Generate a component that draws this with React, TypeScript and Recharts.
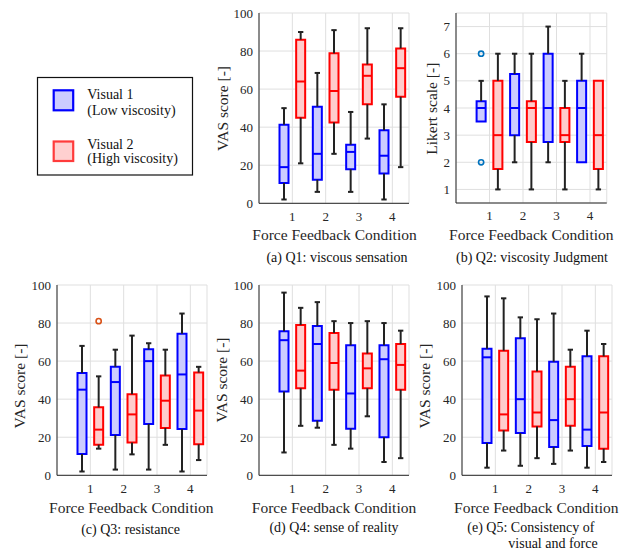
import React from 'react';
import {
  ComposedChart,
  XAxis,
  YAxis,
  CartesianGrid,
  ReferenceArea,
  ReferenceLine,
  Scatter,
} from 'recharts';

// ---------- data ----------
const conditions = [1, 2, 3, 4];
const vasTicks = [0, 20, 40, 60, 80, 100];
const likertTicks = [1, 2, 3, 4, 5, 6, 7];

// each entry: [lower whisker, Q1, median, Q3, upper whisker]
const q1Visual1 = [[2, 10.7, 19, 41.3, 50], [6, 12.4, 26, 50.8, 68.5], [6, 17.9, 27, 30.8, 48], [2, 15.6, 25, 38.4, 52]];
const q1Visual2 = [[21, 45, 64, 86, 90], [26, 42.5, 59, 78.8, 91], [34, 52, 67, 73, 92], [19, 56, 71, 81.4, 92]];
const q2Visual1 = [[3.5, 3.5, 4, 4.25, 5], [2, 3, 4, 5.25, 6], [2, 2.75, 4, 6, 7], [2, 2, 4, 5, 6]];
const q2Visual2 = [[1, 1.75, 3, 5, 6], [1, 2.75, 4, 4.25, 6], [1, 2.75, 3, 4, 5], [1, 1.75, 3, 5, 5]];
const q3Visual1 = [[2, 11.2, 45, 53.8, 68], [3, 21.2, 49, 57, 66], [3, 27, 60, 66.2, 69.4], [2, 24.3, 53, 74.4, 85]];
const q3Visual2 = [[14, 16.1, 24, 35.7, 52], [11, 17.2, 32, 42.6, 73.4], [16, 24.9, 39.2, 52.4, 66], [8, 16.3, 34, 54, 57]];
const q4Visual1 = [[12, 44, 71, 75.7, 96], [25, 28.7, 69, 78.5, 91], [14, 24.5, 43, 68.3, 80], [7, 20, 61, 68.3, 80]];
const q4Visual2 = [[26, 45.7, 55, 79, 88], [16, 45, 59, 74.8, 81], [31, 45.7, 56.2, 64, 81], [9, 45, 58, 69, 76]];
const q5Visual1 = [[4, 17, 62, 66.5, 94], [5, 22.2, 40, 72, 83], [6, 14.9, 29, 59.7, 85], [4, 15.4, 24, 62.5, 76]];
const q5Visual2 = [[13, 23.6, 32, 65.5, 93], [9, 25.7, 33, 54.6, 82], [13, 26, 40, 57, 66], [7, 14, 33, 62.5, 69]];

// outliers: [condition, value]
const q2Visual1Outliers = [[1, 6], [1, 2]];
const q3Visual2Outliers = [[1, 81]];

// ---------- styles ----------
const FONT = '"Liberation Serif", "Times New Roman", serif';
const AXIS = '#262626';
const WHISKER = '#222222';
const BLUE = '#0000ff';
const BLUE_FILL = '#ccccff';
const RED = '#ff0000';
const RED_FILL = '#ffcccc';
const GRID = '#dfdfdf';
const OFFSET = 0.25;
const HALF = 0.135;
const CAP = 0.08;

type Stats = number[][];

interface SeriesDef {
  stats: Stats;
  offset: number;
  stroke: string;
  fill: string;
}

function whiskers(s: SeriesDef, key: string) {
  return s.stats.map((d, i) => {
    const c = conditions[i] + s.offset;
    const [lo, q1, , q3, hi] = d;
    return (
      <React.Fragment key={key + i}>
        {hi > q3 && (
          <ReferenceLine segment={[{ x: c, y: q3 }, { x: c, y: hi }]} stroke={WHISKER} strokeWidth={2} />
        )}
        {hi > q3 && (
          <ReferenceLine segment={[{ x: c - CAP, y: hi }, { x: c + CAP, y: hi }]} stroke={WHISKER} strokeWidth={2} />
        )}
        {lo < q1 && (
          <ReferenceLine segment={[{ x: c, y: lo }, { x: c, y: q1 }]} stroke={WHISKER} strokeWidth={2} />
        )}
        {lo < q1 && (
          <ReferenceLine segment={[{ x: c - CAP, y: lo }, { x: c + CAP, y: lo }]} stroke={WHISKER} strokeWidth={2} />
        )}
      </React.Fragment>
    );
  });
}

function boxes(s: SeriesDef, key: string) {
  return s.stats.map((d, i) => {
    const c = conditions[i] + s.offset;
    const [, q1, , q3] = d;
    return (
      <ReferenceArea
        key={key + i}
        x1={c - HALF}
        x2={c + HALF}
        y1={q1}
        y2={q3}
        fill={s.fill}
        fillOpacity={1}
        stroke={s.stroke}
        strokeWidth={2}
      />
    );
  });
}

function medians(s: SeriesDef, key: string) {
  return s.stats.map((d, i) => {
    const c = conditions[i] + s.offset;
    const med = d[2];
    return (
      <ReferenceLine
        key={key + i}
        segment={[{ x: c - HALF, y: med }, { x: c + HALF, y: med }]}
        stroke={s.stroke}
        strokeWidth={2}
      />
    );
  });
}

interface PanelProps {
  plotLeft: number;
  plotTop: number;
  plotW: number;
  plotH: number;
  domain: [number, number];
  ticks: number[];
  v1: Stats;
  v2: Stats;
  outliers?: { points: number[][]; offset: number; color: string };
}

function Panel({ plotLeft, plotTop, plotW, plotH, domain, ticks, v1, v2, outliers }: PanelProps) {
  const yw = 60;
  const mt = 10;
  const xh = 30;
  const mr = 6;
  const s1: SeriesDef = { stats: v1, offset: -OFFSET, stroke: BLUE, fill: BLUE_FILL };
  const s2: SeriesDef = { stats: v2, offset: OFFSET, stroke: RED, fill: RED_FILL };
  const tickStyle = { fontSize: 13, fontFamily: FONT, fill: AXIS };
  const outlierData = outliers
    ? outliers.points.map(([cnd, v]) => ({ x: cnd + outliers.offset, y: v }))
    : [];
  return (
    <div style={{ position: 'absolute', left: plotLeft - yw, top: plotTop - mt }}>
      <ComposedChart
        width={yw + plotW + mr}
        height={mt + plotH + xh}
        margin={{ top: mt, right: mr, bottom: 0, left: 0 }}
      >
        <CartesianGrid stroke={GRID} strokeWidth={1} />
        <XAxis
          type="number"
          dataKey="x"
          domain={[0, 4.5]}
          ticks={conditions}
          interval={0}
          allowDataOverflow
          height={xh}
          tickLine={false}
          tickSize={6}
          tickMargin={2}
          axisLine={{ stroke: AXIS }}
          tick={tickStyle}
        />
        <YAxis
          type="number"
          dataKey="y"
          domain={domain}
          ticks={ticks}
          interval={0}
          allowDataOverflow
          width={yw}
          tickLine={false}
          tickSize={4}
          tickMargin={2}
          axisLine={{ stroke: AXIS }}
          tick={tickStyle}
        />
        {whiskers(s1, 'w1-')}
        {whiskers(s2, 'w2-')}
        {boxes(s1, 'b1-')}
        {boxes(s2, 'b2-')}
        {medians(s1, 'm1-')}
        {medians(s2, 'm2-')}
        {outliers && (
          <Scatter
            data={outlierData}
            dataKey="y"
            isAnimationActive={false}
            shape={(p: any) => (
              <circle cx={p.cx} cy={p.cy} r={2.6} fill="none" stroke={outliers.color} strokeWidth={1.6} />
            )}
          />
        )}
      </ComposedChart>
    </div>
  );
}

function YLabel({ x, y, text }: { x: number; y: number; text: string }) {
  return (
    <text
      x={x}
      y={y}
      dy="0.35em"
      textAnchor="middle"
      transform={`rotate(-90 ${x} ${y})`}
      fontSize={15.5}
      fontFamily={FONT}
      fill={AXIS}
    >
      {text}
    </text>
  );
}

function XLabel({ x, y }: { x: number; y: number }) {
  return (
    <text x={x} y={y} textAnchor="middle" fontSize={15.5} fontFamily={FONT} fill={AXIS}>
      Force Feedback Condition
    </text>
  );
}

function Caption({ x, y, text, anchor = 'middle' }: { x: number; y: number; text: string; anchor?: string }) {
  return (
    <text x={x} y={y} textAnchor={anchor as any} fontSize={14} fontFamily={FONT} fill="#111">
      {text}
    </text>
  );
}

export default function App() {
  return (
    <div style={{ position: 'absolute', left: 0, top: 0, width: 619, height: 558, background: '#fff', overflow: 'hidden' }}>
      <Panel plotLeft={259.4} plotTop={12.7} plotW={150} plotH={190.3} domain={[0, 100]} ticks={vasTicks} v1={q1Visual1} v2={q1Visual2} />
      <Panel
        plotLeft={455.8}
        plotTop={12.7}
        plotW={150.75}
        plotH={190}
        domain={[0.5, 7.5]}
        ticks={likertTicks}
        v1={q2Visual1}
        v2={q2Visual2}
        outliers={{ points: q2Visual1Outliers, offset: -OFFSET, color: '#0072BD' }}
      />
      <Panel
        plotLeft={56.7}
        plotTop={284.7}
        plotW={150}
        plotH={190.3}
        domain={[0, 100]}
        ticks={vasTicks}
        v1={q3Visual1}
        v2={q3Visual2}
        outliers={{ points: q3Visual2Outliers, offset: OFFSET, color: '#D95319' }}
      />
      <Panel plotLeft={259} plotTop={284.7} plotW={150} plotH={190.3} domain={[0, 100]} ticks={vasTicks} v1={q4Visual1} v2={q4Visual2} />
      <Panel plotLeft={462} plotTop={284.7} plotW={150} plotH={190.3} domain={[0, 100]} ticks={vasTicks} v1={q5Visual1} v2={q5Visual2} />

      <svg
        width={619}
        height={558}
        style={{ position: 'absolute', left: 0, top: 0, pointerEvents: 'none' }}
      >
        {/* legend */}
        <rect x={37.5} y={77.5} width={155} height={97.5} fill="#fff" stroke="#111" strokeWidth={1.2} />
        <rect x={53.7} y={90.3} width={19.5} height={20} fill={BLUE_FILL} stroke={BLUE} strokeWidth={2.2} />
        <rect x={53.7} y={141.5} width={19.5} height={19.5} fill="#ffd0d0" stroke="#ff3b3b" strokeWidth={2.2} />
        <text x={87.3} y={99.3} fontSize={14} fontFamily={FONT} fill="#111">Visual 1</text>
        <text x={87.3} y={114.8} fontSize={14} fontFamily={FONT} fill="#111">(Low viscosity)</text>
        <text x={87.3} y={149.3} fontSize={14} fontFamily={FONT} fill="#111">Visual 2</text>
        <text x={87.3} y={163} fontSize={14} fontFamily={FONT} fill="#111">(High viscosity)</text>

        {/* axis titles */}
        <YLabel x={222.6} y={108.5} text="VAS score [-]" />
        <YLabel x={431.7} y={108.7} text="Likert scale [-]" />
        <YLabel x={19.2} y={386} text="VAS score [-]" />
        <YLabel x={221.8} y={380} text="VAS score [-]" />
        <YLabel x={424.5} y={386} text="VAS score [-]" />
        <XLabel x={334.5} y={240} />
        <XLabel x={531.3} y={240} />
        <XLabel x={131.3} y={513} />
        <XLabel x={334} y={512.5} />
        <XLabel x={536.3} y={512.5} />

        {/* captions */}
        <Caption x={337} y={262} text="(a) Q1: viscous sensation" />
        <Caption x={532} y={262} text="(b) Q2: viscosity Judgment" />
        <Caption x={130.5} y={534} text="(c) Q3: resistance" />
        <Caption x={334} y={532} text="(d) Q4: sense of reality" />
        <Caption x={467.3} y={532} text="(e) Q5: Consistency of" anchor="start" />
        <Caption x={508.3} y={548} text="visual and force" anchor="start" />
      </svg>
    </div>
  );
}
